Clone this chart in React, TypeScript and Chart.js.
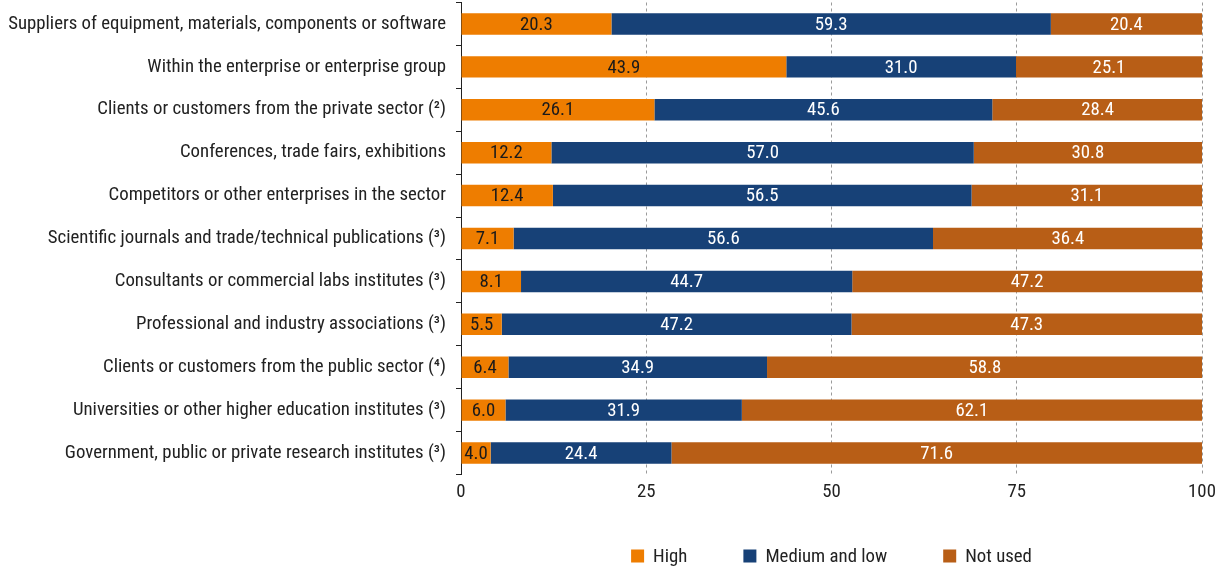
import React, { useEffect, useRef } from "react";
import { Chart, registerables } from "chart.js";

Chart.register(...registerables);

const categories = [
  "Suppliers of equipment, materials, components or software",
  "Within the enterprise or enterprise group",
  "Clients or customers from the private sector (²)",
  "Conferences, trade fairs, exhibitions",
  "Competitors or other enterprises in the sector",
  "Scientific journals and trade/technical publications (³)",
  "Consultants or commercial labs institutes (³)",
  "Professional and industry associations (³)",
  "Clients or customers from the public sector (⁴)",
  "Universities or other higher education institutes (³)",
  "Government, public or private research institutes (³)",
];

const high = [20.3, 43.9, 26.1, 12.2, 12.4, 7.1, 8.1, 5.5, 6.4, 6.0, 4.0];
const mediumLow = [59.3, 31.0, 45.6, 57.0, 56.5, 56.6, 44.7, 47.2, 34.9, 31.9, 24.4];
const notUsed = [20.4, 25.1, 28.4, 30.8, 31.1, 36.4, 47.2, 47.3, 58.8, 62.1, 71.6];

const seriesNames = ["High", "Medium and low", "Not used"];
const seriesColors = ["#EE7D00", "#174177", "#B85E16"];
const labelColors = ["#1a1a1a", "#ffffff", "#ffffff"];

const FONT = "'Roboto Condensed', 'Liberation Sans', sans-serif";
const FS = 18.8;

const valueLabels = {
  id: "valueLabels",
  afterDatasetsDraw(chart: any) {
    const ctx = chart.ctx;
    ctx.save();
    ctx.font = `${FS}px ${FONT}`;
    ctx.textAlign = "center";
    ctx.textBaseline = "middle";
    chart.data.datasets.forEach((ds: any, i: number) => {
      const meta = chart.getDatasetMeta(i);
      meta.data.forEach((el: any, j: number) => {
        const v = ds.data[j];
        const cx = (el.x + el.base) / 2;
        ctx.fillStyle = labelColors[i];
        ctx.fillText(Number(v).toFixed(1), cx, el.y + 1);
      });
    });
    ctx.restore();
  },
};

const customLegend = {
  id: "customLegend",
  afterDraw(chart: any) {
    const ctx = chart.ctx;
    const area = chart.chartArea;
    ctx.save();
    ctx.font = `${FS}px ${FONT}`;
    const box = 13;
    const gapText = 9;
    const gapItem = 56;
    const widths = seriesNames.map((n) => box + gapText + ctx.measureText(n).width);
    const total = widths.reduce((a, b) => a + b, 0) + gapItem * (seriesNames.length - 1);
    let x = (area.left + area.right) / 2 - total / 2;
    const y = 556;
    ctx.textBaseline = "middle";
    ctx.textAlign = "left";
    seriesNames.forEach((n, i) => {
      ctx.fillStyle = seriesColors[i];
      ctx.fillRect(x, y - box / 2, box, box);
      ctx.fillStyle = "#222";
      ctx.fillText(n, x + box + gapText, y + 1);
      x += widths[i] + gapItem;
    });
    ctx.restore();
  },
};

export default function App() {
  const ref = useRef<HTMLCanvasElement | null>(null);
  useEffect(() => {
    if (!ref.current) return;
    const chart = new Chart(ref.current, {
      type: "bar",
      data: {
        labels: categories,
        datasets: [high, mediumLow, notUsed].map((d, i) => ({
          label: seriesNames[i],
          data: d,
          backgroundColor: seriesColors[i],
          borderWidth: 0,
          barPercentage: 0.5,
          categoryPercentage: 1,
        })),
      },
      options: {
        indexAxis: "y",
        animation: false,
        responsive: false,
        maintainAspectRatio: false,
        layout: { padding: { top: 2.5, right: 21, bottom: 60, left: 0 } },
        plugins: {
          legend: { display: false },
          tooltip: { enabled: false },
        },
        scales: {
          x: {
            stacked: true,
            min: 0,
            max: 100,
            ticks: {
              stepSize: 25,
              color: "#222",
              font: { family: FONT, size: FS },
              padding: 7,
            },
            grid: {
              drawTicks: false,
              color: (c: any) => (c.tick && c.tick.value === 0 ? "rgba(0,0,0,0)" : "#9a9a9a"),
              lineWidth: 1,
            },
            border: { display: false, dash: [3, 3] },
            afterFit: (s: any) => {
              s.height = 33.5;
              s.paddingLeft = 0;
              s.paddingRight = 0;
            },
          },
          y: {
            stacked: true,
            ticks: {
              color: "#222",
              font: { family: FONT, size: FS },
              padding: 10,
            },
            grid: {
              drawOnChartArea: false,
              drawTicks: true,
              tickLength: 5,
              color: "#222",
              offset: true,
            },
            border: { display: true, color: "#222", width: 1 },
            afterFit: (s: any) => {
              s.width = 461;
              s.paddingTop = 0;
              s.paddingBottom = 0;
            },
          },
        },
      },
      plugins: [valueLabels, customLegend],
    });
    return () => chart.destroy();
  }, []);
  return (
    <div style={{ position: "fixed", left: 0, top: 0, width: 1223, height: 568, background: "#fff" }}>
      <canvas ref={ref} width={1223} height={568} style={{ width: 1223, height: 568 }} />
    </div>
  );
}
